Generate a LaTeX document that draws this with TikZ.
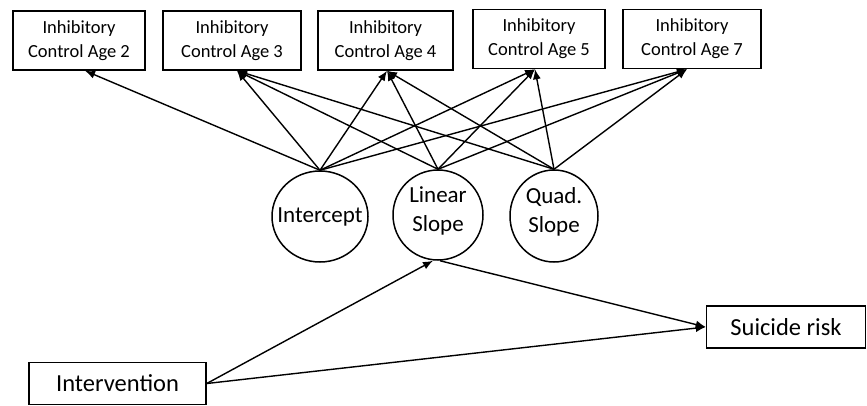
\documentclass[tikz,border=0pt]{standalone}
\usepackage{fontspec}
\setmainfont{Carlito}
\usetikzlibrary{shapes.geometric,arrows.meta}
\begin{document}
\begin{tikzpicture}[x=1pt,y=-1pt,
  obs/.style={draw, line width=1.5pt, minimum height=59pt, inner sep=0pt, align=center, font=\fontsize{18.5}{24}\selectfont},
  lat/.style={draw, ellipse, line width=1.5pt, inner sep=0pt},
  lattext/.style={align=center, font=\fontsize{23}{29}\selectfont, inner sep=0pt},
  big/.style={draw, line width=1.5pt, minimum height=42pt, inner sep=0pt, font=\fontsize{24.5}{28}\selectfont},
  arr/.style={-{Latex[length=10pt,width=8pt]}, line width=1.4pt}]
\useasboundingbox (0,0) rectangle (867,405);
% observed boxes
\node[obs, minimum width=132pt] (a2) at (79,40.5) {Inhibitory\\Control Age 2};
\node[obs, minimum width=138pt] (a3) at (232,40.5) {Inhibitory\\Control Age 3};
\node[obs, minimum width=135pt] (a4) at (385.5,40.5) {Inhibitory\\Control Age 4};
\node[obs, minimum width=132pt] (a5) at (539,39) {Inhibitory\\Control Age 5};
\node[obs, minimum width=138pt] (a7) at (692,39) {Inhibitory\\Control Age 7};
% latent factors
\node[lat, minimum width=96pt, minimum height=91pt] (ic) at (320,216.5) {};
\node[lattext] (ict) at (ic) {Intercept};
\node[lat, minimum width=90pt, minimum height=90pt] (ls) at (438,215) {};
\node[lattext] (lst) at ([yshift=4pt]ls.center) {Linear\\Slope};
\node[lat, minimum width=88pt, minimum height=92pt] (qs) at (554,216) {};
\node[lattext] (qst) at ([yshift=4pt]qs.center) {Quad.\\Slope};
% outcome and predictor
\node[big, minimum width=159pt] (sr) at (786,327) {Suicide risk};
\node[big, minimum width=177pt] (iv) at (117.5,383.5) {Intervention};
% arrow targets
\coordinate (t2) at ([xshift=6pt]a2.south);
\coordinate (t3) at ([xshift=5pt]a3.south);
\coordinate (t4) at ([xshift=1.5pt]a4.south);
\coordinate (t5) at ([xshift=-4pt]a5.south);
\coordinate (t7) at ([xshift=-5pt]a7.south);
% loadings
\foreach \t in {t2,t3,t4,t5,t7} \draw[arr] (ic.north) -- (\t);
\foreach \t in {t3,t4,t5,t7} \draw[arr] (ls.north) -- (\t);
\foreach \t in {t3,t4,t5,t7} \draw[arr] (qs.north) -- (\t);
% structural paths
\coordinate (lsin) at ([xshift=-5pt]ls.south);
\coordinate (lsout) at ([xshift=2pt]ls.south);
\draw[arr] (iv.east) -- (lsin);
\draw[arr] (lsout) -- (sr.west);
\draw[arr] (iv.east) -- (sr.west);
\end{tikzpicture}
\end{document}
